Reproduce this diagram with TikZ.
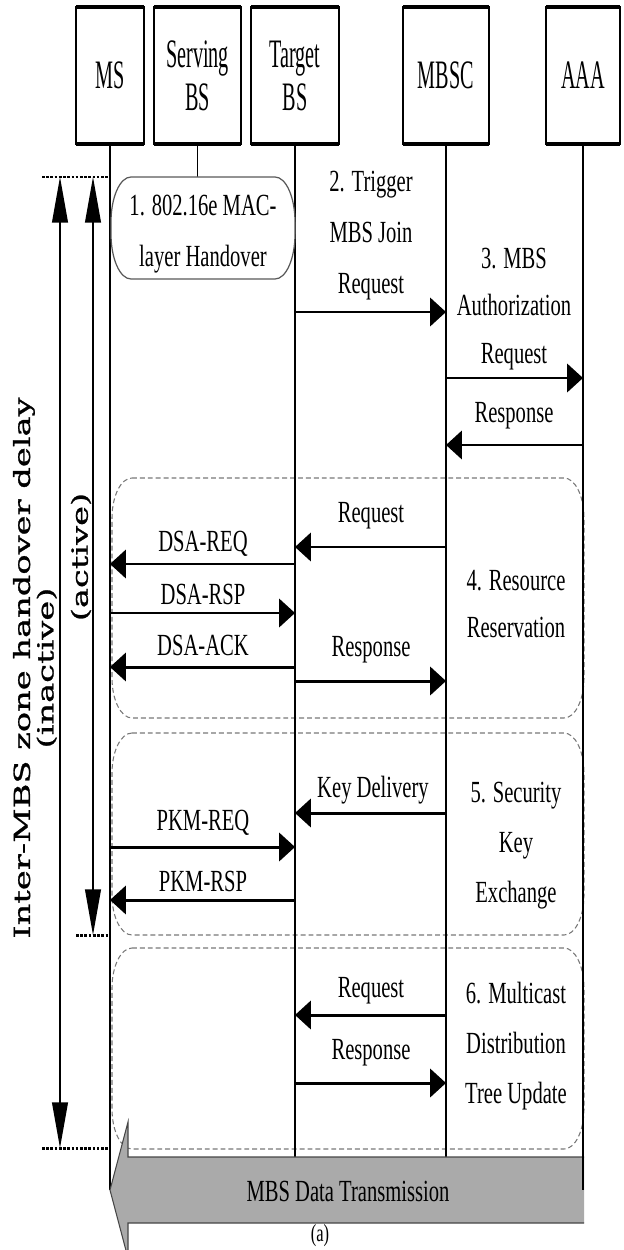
\documentclass[tikz,border=0pt]{standalone}
\usepackage{fontspec}
\setmainfont{Liberation Serif}[FakeStretch=0.67]
\newfontfamily\hdrfont{Liberation Serif}[FakeStretch=0.5]
\newfontfamily\rotfont{DejaVu Serif}[FakeStretch=1.52, FakeBold=1.2]
\usetikzlibrary{arrows.meta,calc}
\newcommand\ellbox[7]{\draw[#1] ({#2+#6},#3) -- ({#4-#6},#3) .. controls ({#4-0.448*#6},#3) and (#4,{#3+0.448*#7}) .. (#4,{#3+#7}) -- (#4,{#5-#7}) .. controls (#4,{#5-0.448*#7}) and ({#4-0.448*#6},#5) .. ({#4-#6},#5) -- ({#2+#6},#5) .. controls ({#2+0.448*#6},#5) and (#2,{#5-0.448*#7}) .. (#2,{#5-#7}) -- (#2,{#3+#7}) .. controls (#2,{#3+0.448*#7}) and ({#2+0.448*#6},#3) .. cycle;}
\definecolor{phasegray}{RGB}{120,120,120}
\begin{document}
\begin{tikzpicture}[x=0.02cm, y=-0.02cm,
  every node/.style={inner sep=0pt, font=\fontsize{17.5}{28.5}\selectfont},
  hdr/.style={draw, line width=1.1pt, outer sep=0pt, minimum height=2.74cm, align=center, font=\hdrfont\fontsize{23}{24.5}\selectfont},
  life/.style={line width=1pt},
  msgarr/.style={line width=1.7pt, -{Triangle[length=9pt,width=16pt]}},
  delayarr/.style={line width=0.9pt, {Triangle[length=26pt,width=9pt]}-{Triangle[length=26pt,width=9pt]}},
  dotline/.style={line width=1.7pt, dash pattern=on 1.5pt off 0.9pt},
  phase/.style={draw=phasegray, line width=0.6pt, dash pattern=on 2.8pt off 1.7pt},
  lbl/.style={align=center},
  rotlbl/.style={rotate=90, align=center, font=\rotfont\fontsize{12.6}{12}\selectfont},
]
\useasboundingbox (0,0) rectangle (624,1250);
\clip (0,0) rectangle (624,1250);

% header boxes
\node[hdr, minimum width=1.36cm] (ms)   at (110,75.5) {MS};
\node[hdr, minimum width=1.74cm] (sbs)  at (197.5,75.5) {Serving\\BS};
\node[hdr, minimum width=1.76cm] (tbs)  at (295,75.5) {Target\\BS};
\node[hdr, minimum width=1.72cm] (mbsc) at (446,75.5) {MBSC};
\node[hdr, minimum width=1.48cm] (aaa)  at (583,75.5) {AAA};
\foreach \n in {ms,sbs,tbs,mbsc,aaa}{
  \draw[line width=1.9pt] (\n.north west) -- (\n.north east);
  \draw[line width=1.9pt] (\n.south west) -- (\n.south east);
}

% phase boxes (dashed)
\ellbox{phase}{112}{478}{584}{718}{20}{40}
\ellbox{phase}{112}{733}{584}{935}{20}{40}
\ellbox{phase}{112}{948}{584}{1149}{20}{40}

% lifelines
\draw[life] (ms.south) -- (ms |- 0,1190);
\draw[life] (sbs.south) -- (sbs |- 0,177);
\draw[life] (tbs.south) -- (tbs |- 0,1157);
\draw[life] (mbsc.south) -- (mbsc |- 0,1157);
\draw[life] (aaa.south) -- (aaa |- 0,1190);

% step 1 box
\ellbox{draw=gray!70!black, line width=0.7pt, fill=white}{111}{177}{295}{279}{20}{45}
\node[lbl, font=\fontsize{17.5}{29}\selectfont] (mac) at (203,234) {1. 802.16e MAC-\\layer Handover};

% delay markers
\coordinate (topL) at (42,177);
\coordinate (actL) at (76,935);
\coordinate (inaL) at (42,1148);
\draw[dotline] (topL) -- (ms |- topL);
\draw[dotline] (actL) -- (ms |- actL);
\draw[dotline] (inaL) -- (ms |- inaL);
\coordinate (ia1) at (60,177);
\coordinate (ia2) at (60,1148);
\coordinate (ac1) at (93,177);
\coordinate (ac2) at (93,935);
\draw[delayarr] (ia1) -- (ia2);
\draw[delayarr] (ac1) -- (ac2);
\node[rotlbl] (delay) at (35,668) {Inter-MBS zone handover delay\\(inactive)};
\node[rotlbl] (active) at (81,557) {(active)};

% step 2 and 3
\draw[msgarr] (tbs |- 0,312) -- (mbsc |- 0,312);
\node[lbl, font=\fontsize{17.5}{29}\selectfont] (trig) at (371,236) {2. Trigger\\MBS Join\\Request};
\draw[msgarr] (mbsc |- 0,378) -- (aaa |- 0,378);
\node[lbl, font=\fontsize{17.5}{27}\selectfont] (auth) at (514,309) {3. MBS\\Authorization\\Request};
\draw[msgarr] (aaa |- 0,445) -- (mbsc |- 0,445);
\node (resp1) at (514,416) {Response};

% step 4
\draw[msgarr] (mbsc |- 0,547) -- (tbs |- 0,547);
\node (req4) at (371,516) {Request};
\draw[msgarr] (tbs |- 0,564) -- (ms |- 0,564);
\node (dsareq) at (203,544) {DSA-REQ};
\draw[msgarr] (ms |- 0,613) -- (tbs |- 0,613);
\node (dsarsp) at (203,594) {DSA-RSP};
\draw[msgarr] (tbs |- 0,667) -- (ms |- 0,667);
\node (dsaack) at (203,645) {DSA-ACK};
\draw[msgarr] (tbs |- 0,681) -- (mbsc |- 0,681);
\node (resp4) at (371,650) {Response};
\node[lbl, font=\fontsize{17.5}{27}\selectfont] (resv) at (516,604) {4. Resource\\Reservation};

% step 5
\draw[msgarr] (mbsc |- 0,813) -- (tbs |- 0,813);
\node (key) at (373,790) {Key Delivery};
\draw[msgarr] (ms |- 0,847) -- (tbs |- 0,847);
\node (pkmreq) at (203,823) {PKM-REQ};
\draw[msgarr] (tbs |- 0,900) -- (ms |- 0,900);
\node (pkmrsp) at (203,881) {PKM-RSP};
\node[lbl] (sec) at (516,846) {5. Security\\Key\\Exchange};

% step 6
\draw[msgarr] (mbsc |- 0,1015) -- (tbs |- 0,1015);
\node (req6) at (371,991) {Request};
\draw[msgarr] (tbs |- 0,1083) -- (mbsc |- 0,1083);
\node (resp6) at (371,1053) {Response};
\node[lbl] (mcast) at (516,1046) {6. Multicast\\Distribution\\Tree Update};

% data transmission arrow
\filldraw[fill=gray!67, draw=gray!55!black, line width=0.6pt]
  (584,1157) -- (128,1157) -- (128,1122) -- (110,1190) -- (128,1258) -- (128,1223) -- (584,1223);
\draw[life] (aaa |- 0,1150) -- (aaa |- 0,1190);
\node (data) at (348,1191) {MBS Data Transmission};

% caption
\node[anchor=south, font=\fontsize{14}{16}\selectfont] (cap) at (320,1247) {(a)};
\end{tikzpicture}
\end{document}
